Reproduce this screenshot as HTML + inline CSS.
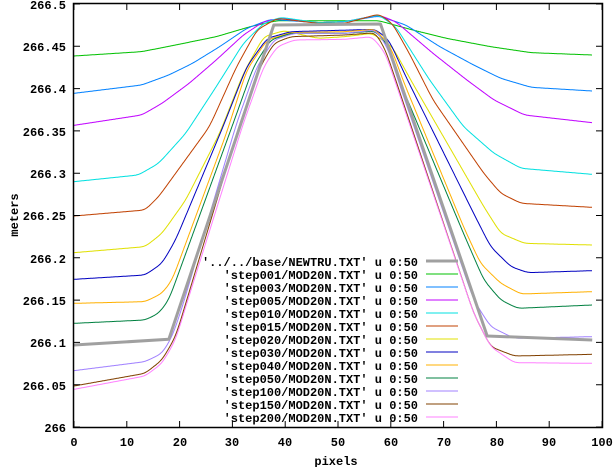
<!DOCTYPE html>
<html><head><meta charset="utf-8"><style>
html,body{margin:0;padding:0;background:#fff;}
svg{display:block;}
text{font-family:"Liberation Mono",monospace;font-weight:bold;font-size:12px;fill:#000;}
</style></head><body>
<svg id="s" width="615" height="467" xmlns="http://www.w3.org/2000/svg">
<rect width="615" height="467" fill="#fff"/>
<g id="curves"></g>
<g id="ticks" stroke="#000" stroke-width="1"></g>
<rect x="73.5" y="3.5" width="529" height="424" fill="none" stroke="#000" stroke-width="1.5"/>
<g text-anchor="end">
<text x="66" y="9">266.5</text>
<text x="66" y="51">266.45</text>
<text x="66" y="93">266.4</text>
<text x="66" y="136">266.35</text>
<text x="66" y="178">266.3</text>
<text x="66" y="220">266.25</text>
<text x="66" y="263">266.2</text>
<text x="66" y="305">266.15</text>
<text x="66" y="347">266.1</text>
<text x="66" y="390">266.05</text>
<text x="66" y="432">266</text>
</g>
<g text-anchor="middle">
<text x="74" y="446">0</text><text x="127" y="446">10</text><text x="180" y="446">20</text>
<text x="232" y="446">30</text><text x="285" y="446">40</text><text x="338" y="446">50</text>
<text x="391" y="446">60</text><text x="444" y="446">70</text><text x="497" y="446">80</text>
<text x="549" y="446">90</text><text x="602" y="446">100</text>
<text x="336" y="465">pixels</text>
<text transform="translate(18,215) rotate(-90)">meters</text>
</g>
<g id="legend" text-anchor="end">
<text x="418" y="266">'../../base/NEWTRU.TXT' u 0:50</text>
<text x="418" y="279">'step001/MOD20N.TXT' u 0:50</text>
<text x="418" y="292">'step003/MOD20N.TXT' u 0:50</text>
<text x="418" y="305">'step005/MOD20N.TXT' u 0:50</text>
<text x="418" y="318">'step010/MOD20N.TXT' u 0:50</text>
<text x="418" y="331">'step015/MOD20N.TXT' u 0:50</text>
<text x="418" y="344">'step020/MOD20N.TXT' u 0:50</text>
<text x="418" y="357">'step030/MOD20N.TXT' u 0:50</text>
<text x="418" y="370">'step040/MOD20N.TXT' u 0:50</text>
<text x="418" y="383">'step050/MOD20N.TXT' u 0:50</text>
<text x="418" y="396">'step100/MOD20N.TXT' u 0:50</text>
<text x="418" y="409">'step150/MOD20N.TXT' u 0:50</text>
<text x="418" y="422">'step200/MOD20N.TXT' u 0:50</text>
</g>
</svg>
<script>
var ns="http://www.w3.org/2000/svg";
var tk=document.getElementById('ticks'),d="";
var X=function(v){return 74+v*5.28;};
var Y=function(v){return 427-(v-266)*846;};
for(var i=0;i<=10;i++){var x=X(i*10);d+="M"+x+" 427V421M"+x+" 4V10";}
for(var i=0;i<=10;i++){var y=Y(266+i*0.05);d+="M74 "+y+"H80M602 "+y+"H596";}
var p=document.createElementNS(ns,'path');p.setAttribute('d',d);tk.appendChild(p);
var g=document.getElementById('curves');
var K=1.016;
function add(dd,col,w){var p=document.createElementNS(ns,'path');p.setAttribute('d',dd);p.setAttribute('fill','none');p.setAttribute('stroke',col);p.setAttribute('stroke-width',w);p.setAttribute('stroke-linejoin','round');g.appendChild(p);}
function P(a){return a.map(function(q){return [74+q[0]/3*K,q[1]/3];});}
function smooth(pts){
 var x0=pts[0][0],x1=pts[pts.length-1][0],ys=[],xs=[];
 var j=0;
 for(var x=x0;x<=x1+0.01;x+=0.5){
  while(j<pts.length-2&&pts[j+1][0]<x)j++;
  var a=pts[j],b=pts[j+1],t=(x-a[0])/(b[0]-a[0]);t=Math.max(0,Math.min(1,t));
  xs.push(x);ys.push(a[1]+(b[1]-a[1])*t);
 }
 var W=14,out=[];
 for(var i=0;i<ys.length;i++){
  var s=0,n=0;
  for(var k=-W;k<=W;k++){var ii=i+k;var v;
   if(ii<0){v=ys[0]+(ys[0]-ys[Math.min(ys.length-1,-ii)]);}
   else if(ii>=ys.length){var m=2*(ys.length-1)-ii;v=ys[ys.length-1]+(ys[ys.length-1]-ys[Math.max(0,m)]);}
   else v=ys[ii];
   var w=W+1-Math.abs(k);s+=v*w;n+=w;}
  out.push([xs[i],s/n]);
 }
 var str="";out.forEach(function(q,i){str+=(i?"L":"M")+q[0].toFixed(1)+" "+q[1].toFixed(1);});
 return str;
}
var cs=[
["#00c000",[[0,168],[200,155],[300,135],[420,110],[520,80],[600,62],[900,62],[1000,90],[1100,115],[1230,140],[1350,158],[1530,165]]],
["#0080ff",[[0,280],[200,255],[280,225],[350,190],[430,140],[510,85],[580,58],[720,68],[800,65],[900,48],[980,75],[1080,140],[1180,195],[1260,235],[1350,262],[1530,273]]],
["#c000ff",[[0,376],[200,345],[260,310],[340,250],[420,180],[500,105],[560,65],[610,55],[720,68],[800,65],[900,45],[950,65],[1060,160],[1160,240],[1240,300],[1330,345],[1530,368]]],
["#00e0e0",[[0,545],[190,525],[250,490],[330,400],[420,260],[500,130],[560,70],[610,52],[720,68],[800,65],[900,45],[950,80],[1050,240],[1150,380],[1240,460],[1320,505],[1530,523]]],
["#c04000",[[0,648],[210,630],[250,590],[300,520],[400,380],[480,200],[540,90],[600,55],[720,70],[800,70],[900,42],[940,70],[990,160],[1060,300],[1210,520],[1260,580],[1320,610],[1530,622]]],
["#e0e000",[[0,758],[210,740],[260,700],[330,600],[430,400],[500,220],[560,110],[620,92],[720,115],[800,110],[880,100],[940,140],[1000,250],[1210,620],[1260,700],[1330,730],[1530,735]]],
["#0000c0",[[0,838],[210,825],[260,790],[300,720],[440,380],[510,200],[570,115],[640,95],[890,88],[930,120],[980,230],[1180,640],[1230,740],[1290,800],[1340,818],[1530,812]]],
["#ffb000",[[0,910],[210,905],[260,880],[290,840],[450,400],[510,210],[570,120],[640,98],[800,95],[890,88],[935,140],[975,250],[1150,680],[1200,790],[1260,850],[1320,882],[1530,875]]],
["#008040",[[0,970],[210,960],[250,940],[280,900],[470,370],[530,200],[580,120],[640,100],[800,100],[890,93],[930,140],[960,240],[1150,700],[1210,840],[1260,900],[1310,925],[1530,915]]],
["#a080ff",[[0,1112],[210,1085],[260,1060],[290,1010],[320,920],[480,370],[540,200],[590,120],[650,100],[800,100],[890,90],[925,140],[960,250],[1180,900],[1230,980],[1300,1015],[1530,1010]]],
["#804000",[[0,1158],[210,1120],[260,1080],[300,1010],[330,910],[490,370],[550,200],[590,130],[640,110],[800,105],[890,98],[920,150],[950,240],[1180,940],[1230,1040],[1300,1068],[1530,1063]]],
["#ff80ff",[[0,1168],[210,1128],[260,1090],[300,1020],[330,920],[500,370],[560,200],[600,140],[650,120],[800,118],[880,110],[920,160],[950,250],[1180,940],[1230,1040],[1300,1088],[1530,1090]]]];
cs.forEach(function(c,k){
 add(smooth(P(c[1])),c[0],1);
 var ly=261+13*(k+1);
 add("M426 "+ly+"H458",c[0],1);
});
var gr=P([[0,1035],[280,1018],[590,75],[905,72],[1220,1008],[1530,1020]]);
var dd="";gr.forEach(function(q,i){dd+=(i?"L":"M")+q[0].toFixed(1)+" "+q[1].toFixed(1);});
add(dd,"#a0a0a0",3);
add("M426 261H458","#a0a0a0",3);
</script>
</body></html>
